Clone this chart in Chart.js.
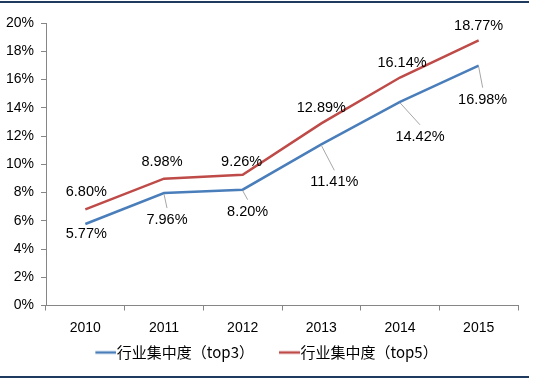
<!DOCTYPE html>
<html><head><meta charset="utf-8">
<script src="https://cdn.jsdelivr.net/npm/chart.js@4/dist/chart.umd.min.js"></script>
<style>
html,body{margin:0;padding:0;background:#fff;}
#wrap{position:relative;width:536px;height:382px;overflow:hidden;}
#c{position:absolute;left:0;top:0;}
.rule{position:absolute;left:0;width:529px;height:2px;background:#1F3A5F;}
</style></head><body>
<div id="wrap"><canvas id="c" width="536" height="382"></canvas>
<div class="rule" style="top:1px"></div><div class="rule" style="top:376px"></div></div>
<script>
// ---- data ----
const categories = ['2010', '2011', '2012', '2013', '2014', '2015'];
const top3 = [5.77, 7.96, 8.20, 11.41, 14.42, 16.98];
const top5 = [6.80, 8.98, 9.26, 12.89, 16.14, 18.77];
const seriesNames = ['行业集中度（top3）', '行业集中度（top5）'];
const yMin = 0, yMax = 20, yStep = 2;

// ---- styling / label placement ----
const colors = ['#4A7EBB', '#BE4B48'];
const labelOffsets = [
  [[1, 10, false], [3, 27, true], [5, 22, true], [13, 38, true], [20, 35, true], [4, 34, true]],
  [[1, -17, false], [-2, -17, false], [-1, -13, false], [0, -15, false], [2, -15, false], [0, -14, false]]
];

function legendSwatch(color) {
  const cv = document.createElement('canvas');
  cv.width = 43; cv.height = 6;
  const g = cv.getContext('2d');
  g.strokeStyle = color; g.lineWidth = 2.5;
  g.beginPath(); g.moveTo(22, 3); g.lineTo(43, 3); g.stroke();
  return cv;
}
const swatches = colors.map(legendSwatch);

const dataLabels = {
  id: 'dataLabels',
  afterDatasetsDraw(chart) {
    const ctx = chart.ctx;
    ctx.save();
    ctx.font = '14.5px "Liberation Sans", Arial, sans-serif';
    ctx.textAlign = 'center';
    ctx.textBaseline = 'middle';
    chart.data.datasets.forEach((ds, di) => {
      const meta = chart.getDatasetMeta(di);
      meta.data.forEach((pt, i) => {
        const [dx, dy, leader] = labelOffsets[di][i];
        const lx = pt.x + dx, ly = pt.y + dy;
        if (leader) {
          ctx.strokeStyle = '#A6A6A6';
          ctx.lineWidth = 1;
          ctx.beginPath();
          ctx.moveTo(pt.x, pt.y + 1);
          ctx.lineTo(lx, ly - 12);
          ctx.stroke();
        }
        ctx.fillStyle = '#000';
        ctx.fillText(ds.data[i].toFixed(2) + '%', lx, ly);
      });
    });
    ctx.restore();
  }
};

const tickFont = { family: '"Liberation Sans", Arial, sans-serif', size: 14 };

new Chart(document.getElementById('c'), {
  type: 'line',
  data: {
    labels: categories,
    datasets: [
      { label: seriesNames[0], data: top3, borderColor: colors[0], backgroundColor: colors[0], borderWidth: 2.5, pointRadius: 0, tension: 0 },
      { label: seriesNames[1], data: top5, borderColor: colors[1], backgroundColor: colors[1], borderWidth: 2.5, pointRadius: 0, tension: 0 }
    ]
  },
  options: {
    responsive: false,
    animation: false,
    devicePixelRatio: 1,
    layout: { padding: { left: 0, right: 18, top: 23, bottom: 12 } },
    plugins: {
      tooltip: { enabled: false },
      legend: {
        position: 'bottom',
        labels: {
          usePointStyle: true,
          pointStyleWidth: 29,
          padding: 10,
          color: '#000',
          font: { family: '"Noto Sans CJK SC", sans-serif', size: 15 },
          generateLabels: (chart) => chart.data.datasets.map((ds, i) => ({
            text: ds.label, pointStyle: swatches[i], fillStyle: colors[i], strokeStyle: colors[i],
            lineWidth: 0, datasetIndex: i, hidden: false, fontColor: '#000'
          }))
        }
      }
    },
    scales: {
      x: {
        offset: true,
        grid: { drawOnChartArea: false, drawTicks: true, tickLength: 5, color: '#868686', offset: true },
        border: { color: '#868686', width: 1 },
        ticks: { color: '#000', font: tickFont, padding: 9, maxRotation: 0 },
        afterFit: (s) => { s.height = 29.5; }
      },
      y: {
        min: yMin, max: yMax,
        grid: { drawOnChartArea: false, drawTicks: true, tickLength: 5, color: '#868686' },
        border: { color: '#868686', width: 1 },
        ticks: { stepSize: yStep, color: '#000', font: tickFont, padding: 7, callback: (v) => v + '%' },
        afterFit: (s) => { s.width = 46; }
      }
    }
  },
  plugins: [dataLabels]
});
</script>
</body></html>
